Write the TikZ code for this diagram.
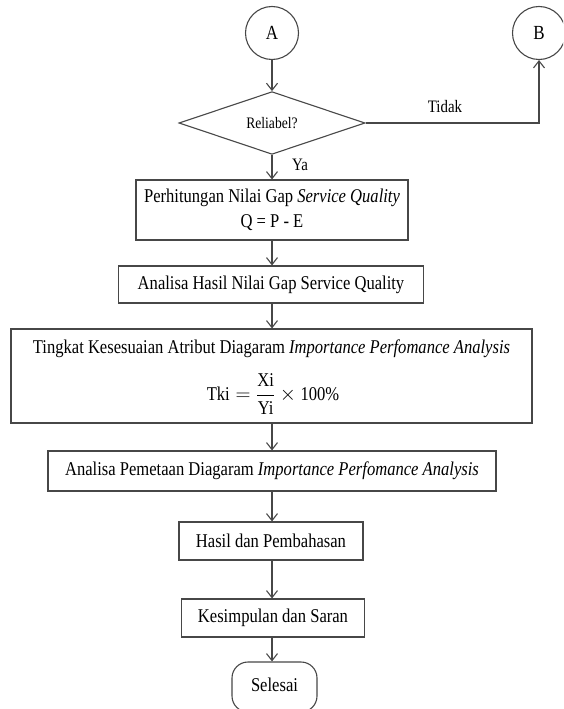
\documentclass[tikz,border=0pt]{standalone}
\usepackage{fontspec}
\usepackage{amsmath}
\setmainfont[FakeStretch=0.85]{Liberation Serif}
\usetikzlibrary{shapes.geometric, arrows.meta}

\tikzset{
  ink/.style={draw=black!72, line width=1.1pt},
  procbox/.style={ink, rectangle, inner sep=0pt, align=center,
    font=\fontsize{19.5}{25}\selectfont},
  connector/.style={ink, circle, inner sep=0pt, minimum size=53pt,
    font=\fontsize{20}{22}\selectfont},
  decision/.style={ink, diamond, inner sep=0pt, minimum width=186pt,
    minimum height=59pt, font=\fontsize{16}{18}\selectfont},
  terminal/.style={ink, rectangle, rounded corners=16pt, inner sep=0pt,
    font=\fontsize{19.5}{22}\selectfont},
  flow/.style={black!72, line width=1.1pt,
    -{Straight Barb[length=7pt, width=11pt, line width=1.1pt]}},
  tag/.style={inner sep=0pt, font=\fontsize{17.5}{20}\selectfont},
}

\begin{document}
\begin{tikzpicture}[x=1pt, y=-1pt]
  \useasboundingbox (0,0) rectangle (563,709);
  \clip (0,0) rectangle (563,709);

  % start connector and decision
  \node[connector] (A) at (272,33) {A};
  \node[connector] (B) at (539,33) {B};
  \node[decision] (rel) at (272,123) {Reliabel?};

  % process steps
  \node[procbox, minimum width=272pt, minimum height=60pt] (gap) at (272,210)
    {Perhitungan Nilai Gap \textit{Service Quality}\\ Q = P - E};
  \node[procbox, minimum width=305pt, minimum height=37pt] (ana) at (271,284.5)
    {Analisa Hasil Nilai Gap Service Quality};
  \node[procbox, minimum width=521pt, minimum height=94pt] (ipa) at (271.5,376) {};
  \node[inner sep=0pt, font=\fontsize{19.5}{22}\selectfont] (ipatitle) at (271.5,349)
    {Tingkat Kesesuaian Atribut Diagaram \textit{Importance Perfomance Analysis}};
  \node[inner sep=0pt, font=\fontsize{19.5}{22}\selectfont] (ipaeq) at (273,394)
    {$\text{Tki} = \dfrac{\text{Xi}}{\text{Yi}} \times \text{100\%}$};
  \node[procbox, minimum width=448pt, minimum height=40pt] (map) at (272,471)
    {Analisa Pemetaan Diagaram \textit{Importance Perfomance Analysis}};
  \node[procbox, minimum width=184pt, minimum height=38pt] (res) at (271,541)
    {Hasil dan Pembahasan};
  \node[procbox, minimum width=183pt, minimum height=38pt] (con) at (273,618)
    {Kesimpulan dan Saran};
  \node[terminal, minimum width=85pt, minimum height=50pt] (end) at (274.5,687)
    {\raisebox{4pt}{Selesai}};

  % connectors
  \draw[flow] (A.south) -- (rel.north);
  \draw[flow] (rel.south) -- (gap.north);
  \draw[flow] (rel.east) -| (B.south);
  \draw[flow] (gap.south) -- (gap.south |- ana.north);
  \draw[flow] (gap.south |- ana.south) -- (gap.south |- ipa.north);
  \draw[flow] (gap.south |- ipa.south) -- (gap.south |- map.north);
  \draw[flow] (gap.south |- map.south) -- (gap.south |- res.north);
  \draw[flow] (gap.south |- res.south) -- (gap.south |- con.north);
  \draw[flow] (gap.south |- con.south) -- (gap.south |- end.north);

  % branch labels
  \node[tag] (no) at (445,107) {Tidak};
  \node[tag] (yes) at (300,165) {Ya};
\end{tikzpicture}
\end{document}
